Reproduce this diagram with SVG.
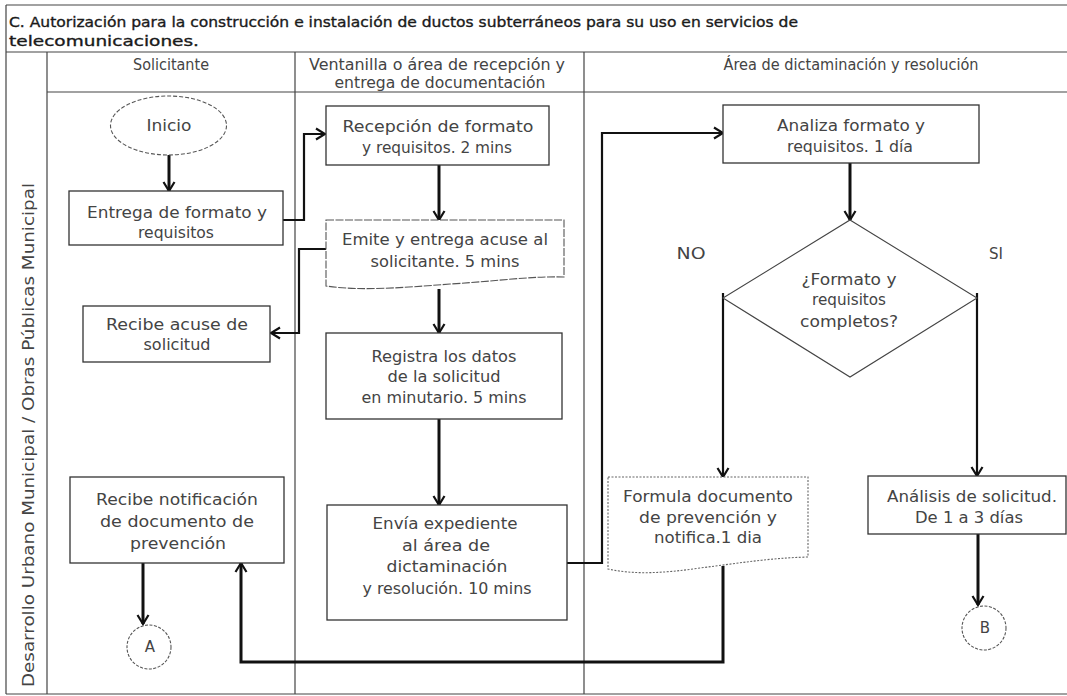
<svg xmlns="http://www.w3.org/2000/svg" width="1067" height="696" viewBox="0 0 1067 696">
<style>
  .frame{stroke:#444;stroke-width:1.2;fill:none}
  .box{fill:#fff;stroke:#333;stroke-width:1.3}
  .dash{fill:#fff;stroke:#555;stroke-width:1.1;stroke-dasharray:4 2}
  .dot{fill:#fff;stroke:#666;stroke-width:1.1;stroke-dasharray:2 1.5}
  .dia{fill:#fff;stroke:#444;stroke-width:1.1}
  .t{font-family:"DejaVu Sans","Liberation Sans",sans-serif;font-size:15px;fill:#444;text-anchor:middle}
  .title{font-family:"DejaVu Sans","Liberation Sans",sans-serif;font-size:14.5px;fill:#1a1a1a;stroke:#1a1a1a;stroke-width:0.35}
  .c{fill:none;stroke:#111;stroke-linejoin:miter}
  .w3{stroke-width:3}
  .w2{stroke-width:2.2}
</style>
<defs>
  <marker id="ah" markerUnits="userSpaceOnUse" markerWidth="14" markerHeight="14" viewBox="0 0 14 14" refX="12" refY="7" orient="auto">
    <path d="M3,1.5 L12,7 L3,12.5" fill="none" stroke="#111" stroke-width="2.2"/>
  </marker>
</defs>
<rect width="1067" height="696" fill="#fff"/>

<g id="frame">
  <line class="frame" x1="6" y1="5" x2="1067" y2="5"/>
  <line class="frame" x1="6" y1="5" x2="6" y2="694"/>
  <line class="frame" x1="6" y1="52" x2="1067" y2="52"/>
  <line class="frame" x1="47" y1="92" x2="1067" y2="92"/>
  <line class="frame" x1="47" y1="52" x2="47" y2="694"/>
  <line class="frame" x1="295" y1="52" x2="295" y2="694"/>
  <line class="frame" x1="584" y1="52" x2="584" y2="694"/>
  <line class="frame" x1="6" y1="694" x2="1067" y2="694"/>
  <text class="title" x="9" y="27" textLength="789" lengthAdjust="spacingAndGlyphs">C. Autorización para la construcción e instalación de ductos subterráneos para su uso en servicios de</text>
  <text class="title" x="9" y="46" textLength="190" lengthAdjust="spacingAndGlyphs">telecomunicaciones.</text>
  <text class="t" x="171" y="70" textLength="76" lengthAdjust="spacingAndGlyphs">Solicitante</text>
  <text class="t" x="437" y="70" textLength="256" lengthAdjust="spacingAndGlyphs">Ventanilla o área de recepción y</text>
  <text class="t" x="440" y="88" textLength="211" lengthAdjust="spacingAndGlyphs">entrega de documentación</text>
  <text class="t" x="851" y="70" textLength="255" lengthAdjust="spacingAndGlyphs">Área de dictaminación y resolución</text>
  <text class="t" x="34" y="435" font-size="16" textLength="504" lengthAdjust="spacingAndGlyphs" transform="rotate(-90 34 435)">Desarrollo Urbano Municipal / Obras Públicas Municipal</text>
</g>

<g id="connectors">
  <path class="c w3" d="M169,155 V191" marker-end="url(#ah)"/>
  <path class="c w2" d="M283,220 H304 V134 H325" marker-end="url(#ah)"/>
  <path class="c w3" d="M439,165 V220" marker-end="url(#ah)"/>
  <path class="c w2" d="M326,249 H299 V333 H271" marker-end="url(#ah)"/>
  <path class="c w3" d="M439,289 V333" marker-end="url(#ah)"/>
  <path class="c w3" d="M439,419 V505" marker-end="url(#ah)"/>
  <path class="c w2" d="M567,563 H602 V133 H723" marker-end="url(#ah)"/>
  <path class="c w3" d="M850,163 V220" marker-end="url(#ah)"/>
  <path class="c w2" d="M723,293 V477" marker-end="url(#ah)"/>
  <path class="c w2" d="M977,293 V476" marker-end="url(#ah)"/>
  <path class="c w3" d="M723,566 V662 H241 V563" marker-end="url(#ah)"/>
  <path class="c w3" d="M143,563 V624" marker-end="url(#ah)"/>
  <path class="c w3" d="M978,534 V605" marker-end="url(#ah)"/>
</g>

<g id="node-inicio">
  <ellipse class="dash" cx="168.5" cy="125.5" rx="58" ry="29.5"/>
  <text class="t" x="169" y="131" textLength="45" lengthAdjust="spacingAndGlyphs">Inicio</text>
</g>

<g id="node-entrega">
  <rect class="box" x="69" y="191" width="214" height="54"/>
  <text class="t" x="177" y="218" textLength="180" lengthAdjust="spacingAndGlyphs">Entrega de formato y</text>
  <text class="t" x="176" y="238" textLength="76" lengthAdjust="spacingAndGlyphs">requisitos</text>
</g>

<g id="node-recepcion">
  <rect class="box" x="326" y="106" width="223" height="59"/>
  <text class="t" x="438" y="132" textLength="191" lengthAdjust="spacingAndGlyphs">Recepción de formato</text>
  <text class="t" x="437" y="153" textLength="150" lengthAdjust="spacingAndGlyphs">y requisitos. 2 mins</text>
</g>

<g id="node-emite">
  <path class="dash" style="stroke-dasharray:8 1.5" d="M326,220 H564 V277 C530,276 500,281 450,284 C400,288 360,291 326,286 Z"/>
  <text class="t" x="445" y="245" textLength="206" lengthAdjust="spacingAndGlyphs">Emite y entrega acuse al</text>
  <text class="t" x="445" y="267" textLength="149" lengthAdjust="spacingAndGlyphs">solicitante. 5 mins</text>
</g>

<g id="node-recibe-acuse">
  <rect class="box" x="83" y="306" width="187" height="56"/>
  <text class="t" x="177" y="330" textLength="142" lengthAdjust="spacingAndGlyphs">Recibe acuse de</text>
  <text class="t" x="177" y="350" textLength="67" lengthAdjust="spacingAndGlyphs">solicitud</text>
</g>

<g id="node-registra">
  <rect class="box" x="326" y="333" width="236" height="86"/>
  <text class="t" x="444" y="362" textLength="145" lengthAdjust="spacingAndGlyphs">Registra los datos</text>
  <text class="t" x="444" y="382" textLength="113" lengthAdjust="spacingAndGlyphs">de la solicitud</text>
  <text class="t" x="444" y="403" textLength="165" lengthAdjust="spacingAndGlyphs">en minutario. 5 mins</text>
</g>

<g id="node-envia">
  <rect class="box" x="327" y="505" width="240" height="115"/>
  <text class="t" x="445" y="529" textLength="145" lengthAdjust="spacingAndGlyphs">Envía expediente</text>
  <text class="t" x="446" y="551" textLength="88" lengthAdjust="spacingAndGlyphs">al área de</text>
  <text class="t" x="447" y="572" textLength="121" lengthAdjust="spacingAndGlyphs">dictaminación</text>
  <text class="t" x="447" y="594" textLength="169" lengthAdjust="spacingAndGlyphs">y resolución. 10 mins</text>
</g>

<g id="node-recibe-notificacion">
  <rect class="box" x="70" y="477" width="214" height="86"/>
  <text class="t" x="177" y="505" textLength="162" lengthAdjust="spacingAndGlyphs">Recibe notificación</text>
  <text class="t" x="177" y="527" textLength="154" lengthAdjust="spacingAndGlyphs">de documento de</text>
  <text class="t" x="178" y="549" textLength="96" lengthAdjust="spacingAndGlyphs">prevención</text>
</g>

<g id="node-a">
  <circle class="dash" style="stroke-dasharray:3 1.5" cx="149" cy="647" r="22"/>
  <text class="t" x="150" y="652" font-size="14">A</text>
</g>

<g id="node-analiza">
  <rect class="box" x="723" y="105" width="256" height="58"/>
  <text class="t" x="851" y="131" textLength="148" lengthAdjust="spacingAndGlyphs">Analiza formato y</text>
  <text class="t" x="850" y="152" textLength="126" lengthAdjust="spacingAndGlyphs">requisitos. 1 día</text>
</g>

<g id="node-decision">
  <polygon class="dia" points="850,220 977,298 850,377 723,298"/>
  <text class="t" x="849" y="285" textLength="95" lengthAdjust="spacingAndGlyphs">¿Formato y</text>
  <text class="t" x="849" y="305" textLength="74" lengthAdjust="spacingAndGlyphs">requisitos</text>
  <text class="t" x="849" y="327" textLength="98" lengthAdjust="spacingAndGlyphs">completos?</text>
  <text class="t" x="691" y="259" textLength="29" lengthAdjust="spacingAndGlyphs">NO</text>
  <text class="t" x="996" y="259" textLength="14" lengthAdjust="spacingAndGlyphs">SI</text>
</g>

<g id="node-formula">
  <path class="dot" d="M608,477 H808 V557 C770,558 740,563 700,568 C665,573 635,575 608,569 Z"/>
  <text class="t" x="708" y="502" textLength="170" lengthAdjust="spacingAndGlyphs">Formula documento</text>
  <text class="t" x="708" y="523" textLength="138" lengthAdjust="spacingAndGlyphs">de prevención y</text>
  <text class="t" x="708" y="543" textLength="108" lengthAdjust="spacingAndGlyphs">notifica.1 dia</text>
</g>

<g id="node-analisis">
  <rect class="box" x="868" y="476" width="198" height="58"/>
  <text class="t" x="972" y="502" textLength="170" lengthAdjust="spacingAndGlyphs">Análisis de solicitud.</text>
  <text class="t" x="969" y="523" textLength="108" lengthAdjust="spacingAndGlyphs">De 1 a 3 días</text>
</g>

<g id="node-b">
  <circle class="dash" style="stroke-dasharray:3 1.5" cx="984" cy="628" r="22"/>
  <text class="t" x="985" y="633" font-size="14">B</text>
</g>
</svg>
